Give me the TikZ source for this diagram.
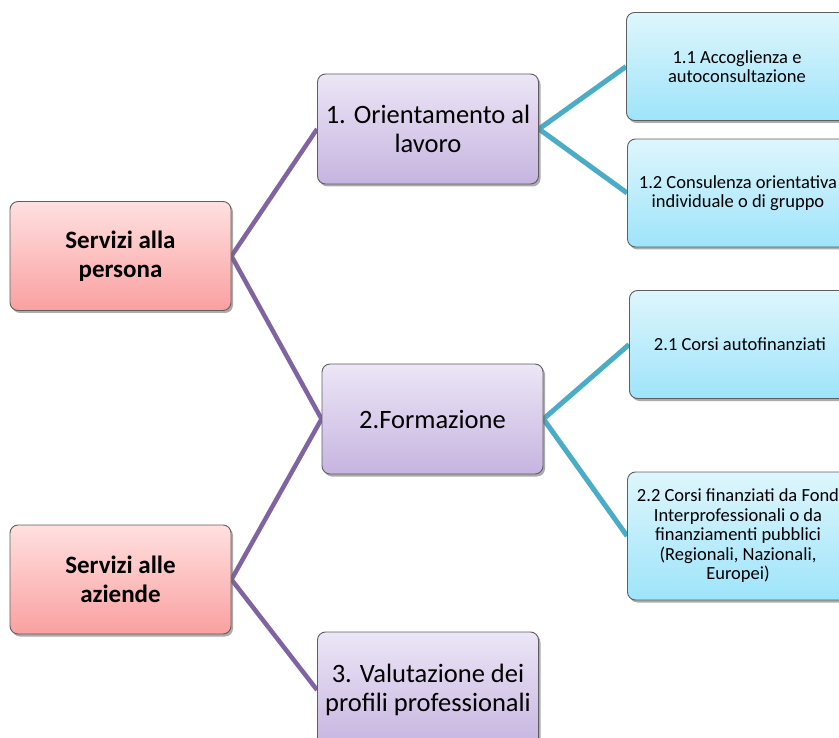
\documentclass[tikz,border=0pt]{standalone}
\usepackage{fontspec}
\setmainfont{Carlito}
\usetikzlibrary{shadows}
\pgfdeclarelayer{bg}
\pgfsetlayers{bg,main}
\definecolor{lnpurple}{RGB}{128,100,162}
\definecolor{lncyan}{RGB}{75,172,198}
\definecolor{pktop}{RGB}{255,224,224}
\definecolor{pkbot}{RGB}{250,160,160}
\definecolor{pptop}{RGB}{236,230,246}
\definecolor{ppbot}{RGB}{198,180,224}
\definecolor{bltop}{RGB}{222,246,252}
\definecolor{blbot}{RGB}{158,228,250}
\definecolor{bord}{RGB}{95,95,95}
\tikzset{
  boxbase/.style={draw=bord, line width=0.9pt, rounded corners=8pt, align=center,
    inner sep=2pt, drop shadow={shadow xshift=2pt, shadow yshift=-2.5pt, opacity=0.55, fill=black!60}},
  rootbox/.style={boxbase, top color=pktop, bottom color=pkbot, minimum width=221pt, minimum height=109pt,
    font=\fontsize{25}{29}\selectfont\bfseries},
  midbox/.style={boxbase, top color=pptop, bottom color=ppbot, minimum width=221pt, minimum height=110pt,
    font=\fontsize{26.5}{29}\selectfont},
  leafbox/.style={boxbase, top color=bltop, bottom color=blbot, minimum width=221pt, minimum height=108pt,
    font=\fontsize{18.5}{19.5}\selectfont},
  plink/.style={draw=lnpurple, line width=4.5pt},
  clink/.style={draw=lncyan, line width=5pt},
}
\begin{document}
\begin{tikzpicture}[x=1pt,y=-1pt]
\useasboundingbox (0,0) rectangle (839,738);
\clip (0,0) rectangle (839,738);
\node[rootbox] (sp) at (120.5,256) {Servizi alla\\persona};
\node[rootbox] (sa) at (120.5,579.5) {Servizi alle\\aziende};
\node[midbox] (o1) at (428,129) {1. Orientamento al\\lavoro};
\node[midbox] (f2) at (432.5,419) {2.Formazione};
\node[midbox, minimum height=116pt] (v3) at (428,690) {3. Valutazione dei\\profili professionali};
\node[leafbox] (a11) at (737,66.5) {1.1 Accoglienza e\\autoconsultazione};
\node[leafbox] (a12) at (738,193) {1.2 Consulenza orientativa\\individuale o di gruppo};
\node[leafbox] (a21) at (740,344.5) {2.1 Corsi autofinanziati};
\node[leafbox, minimum height=128pt] (a22) at (738,536) {2.2 Corsi finanziati da Fond\\Interprofessionali o da\\finanziamenti pubblici\\(Regionali, Nazionali,\\Europei)};
\begin{pgfonlayer}{bg}
\draw[plink] (sp.east) -- (o1.west);
\draw[plink] (sp.east) -- (f2.west);
\draw[plink] (sa.east) -- (f2.west);
\draw[plink] (sa.east) -- (v3.west);
\draw[clink] (o1.east) -- (a11.west);
\draw[clink] (o1.east) -- (a12.west);
\draw[clink] (f2.east) -- (a21.west);
\draw[clink] (f2.east) -- (a22.west);
\end{pgfonlayer}
\end{tikzpicture}
\end{document}
